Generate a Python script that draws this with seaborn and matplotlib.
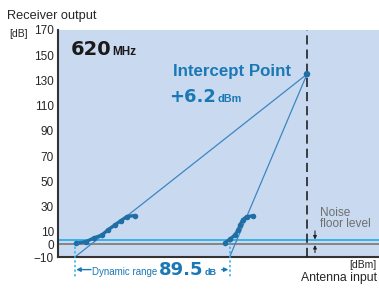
import numpy as np
import pandas as pd
import matplotlib
matplotlib.use("Agg")
import matplotlib.pyplot as plt
import seaborn as sns

fund_in = [-138.2, -131.9, -126.9, -121.9, -118.2, -113.8, -110.0, -106.3, -101.3]
fund_out = [0.9, 2.2, 5.1, 7.5, 11.5, 15.5, 18.9, 22.1, 22.9]
im3_in = [-45.0, -41.9, -38.8, -36.7, -35.6, -34.0, -31.5, -27.3]
im3_out = [1.4, 4.1, 7.5, 11.5, 15.5, 19.5, 22.1, 22.6]

ip_in = 6.2      # intercept point input, dBm
ip_out = 135.0   # intercept point output, dB
noise_floor = 3.5
zero_level = 0.0
y_ticks = [170, 150, 130, 110, 90, 70, 50, 30, 10, 0, -10]

sns.set_style("white")
plt.rcParams["font.family"] = ["Liberation Sans", "DejaVu Sans"]

bg = "#c9d9ef"
dark_blue = "#1f6ea6"
line_blue = "#3c86c2"
cyan = "#2bb0e6"
text_blue = "#1a78b5"

W, H = 379, 289
fig = plt.figure(figsize=(W / 100, H / 100), dpi=100)
ax = fig.add_axes([58 / W, 1 - 257 / H, 321 / W, 227 / H])
ax.set_facecolor(bg)
renderer = fig.canvas.get_renderer()


def put(x, y, s, **kw):
    # x, y in pixels from the top-left corner, y is the baseline
    return fig.text(x / W, 1 - y / H, s, va="baseline", **kw)


def after(t, s, gap=0, **kw):
    bb = t.get_window_extent(renderer)
    return fig.text((bb.x1 + gap) / W, t.get_position()[1], s, va="baseline", **kw)


ymin = -10
x_f0 = ip_in - (ip_out - ymin) / 1.0
x_3 = ip_in - (ip_out - ymin) / 3.0

# theoretical slope-1 and slope-3 lines
ax.plot([x_f0, ip_in], [ymin, ip_out], color=line_blue, lw=0.9, zorder=2)
ax.plot([x_3, ip_in], [ymin, ip_out], color=line_blue, lw=0.9, zorder=2)

# noise floor lines
ax.axhline(noise_floor, color=cyan, lw=1.3, zorder=1)
ax.axhline(zero_level, color="#7f7f7f", lw=1.3, zorder=1)

# measured curves
df_f = pd.DataFrame({"x": fund_in, "y": fund_out})
df_3 = pd.DataFrame({"x": im3_in, "y": im3_out})
sns.lineplot(data=df_f, x="x", y="y", ax=ax, color=dark_blue, lw=2.4,
             marker="o", markersize=4, markeredgewidth=0, sort=False, zorder=4)
sns.lineplot(data=df_3, x="x", y="y", ax=ax, color=dark_blue, lw=2.4,
             marker="o", markersize=4, markeredgewidth=0, sort=False, zorder=4)

# intercept marker and dashed vertical
ax.axvline(ip_in, color="#222222", lw=1.2, ls=(0, (5.5, 3)), zorder=3)
sns.scatterplot(x=[ip_in], y=[ip_out], ax=ax, color=dark_blue, s=22,
                edgecolor="none", zorder=5)

ax.set_xlim(-149.4, 51.2)
ax.set_ylim(-10, 170)
ax.set_yticks(y_ticks)
ax.set_yticklabels([str(t).replace("-", "\u2212") for t in y_ticks], fontsize=8.5)
ax.set_xticks([])
ax.tick_params(axis="y", length=0, pad=3)
ax.set_xlabel("")
ax.set_ylabel("")
for s in ["top", "right"]:
    ax.spines[s].set_visible(False)
ax.spines["left"].set_color("#333333")
ax.spines["left"].set_linewidth(1.5)
ax.spines["bottom"].set_color("#333333")
ax.spines["bottom"].set_linewidth(1.5)

# dynamic range markers
ax.vlines([x_f0, x_3], noise_floor - 2, -26, colors=cyan, lw=1.1,
          linestyles=(0, (1.5, 1.5)), clip_on=False, zorder=3)
ar = -20.0
ax.annotate("", xy=(x_f0 + 0.8, ar), xytext=(x_f0 + 10, ar), annotation_clip=False,
            arrowprops=dict(arrowstyle="-|>", color=text_blue, lw=1.0,
                            mutation_scale=6, shrinkA=0, shrinkB=0))
ax.annotate("", xy=(x_3 - 0.8, ar), xytext=(x_3 - 5, ar), annotation_clip=False,
            arrowprops=dict(arrowstyle="-|>", color=text_blue, lw=1.0,
                            mutation_scale=6, shrinkA=0, shrinkB=0))
t = put(92, 275, "Dynamic range", color=text_blue, fontsize=7.0)
t = after(t, "89.5", gap=2, color=text_blue, fontsize=13, fontweight="bold",
          family="DejaVu Sans")
after(t, "dB", gap=1, color=text_blue, fontsize=6.5, fontweight="bold")

# noise floor annotation
ax.annotate("", xy=(11.2, noise_floor + 0.4), xytext=(11.2, 10.7),
            arrowprops=dict(arrowstyle="-|>", color="#222222", lw=0.8,
                            mutation_scale=5, shrinkA=0, shrinkB=0))
ax.annotate("", xy=(11.2, zero_level - 0.5), xytext=(11.2, -6.5),
            arrowprops=dict(arrowstyle="-|>", color="#222222", lw=0.8,
                            mutation_scale=5, shrinkA=0, shrinkB=0))
put(320, 215.7, "Noise", color="#6f6f6f", fontsize=8.6)
put(320, 226.7, "floor level", color="#6f6f6f", fontsize=8.6)

# titles inside the plot
t = put(71, 55, "620", color="#1a1a1a", fontsize=14, fontweight="bold",
        family="DejaVu Sans")
after(t, "MHz", gap=1, color="#1a1a1a", fontsize=8.5, fontweight="bold")
put(173, 76.5, "Intercept Point", color=text_blue, fontsize=12.2, fontweight="bold")
t = put(169, 101.7, "+6.2", color=text_blue, fontsize=13, fontweight="bold",
        family="DejaVu Sans")
after(t, "dBm", gap=2, color=text_blue, fontsize=7.8, fontweight="bold")

# axis labels around the frame
put(7, 19, "Receiver output", fontsize=9.2)
put(9, 37, "[dB]", fontsize=7.5)
put(377, 268, "[dBm]", fontsize=7.5, ha="right")
put(377, 281, "Antenna input", fontsize=8.8, ha="right")

fig.savefig("out.png", dpi=100, facecolor="white")
